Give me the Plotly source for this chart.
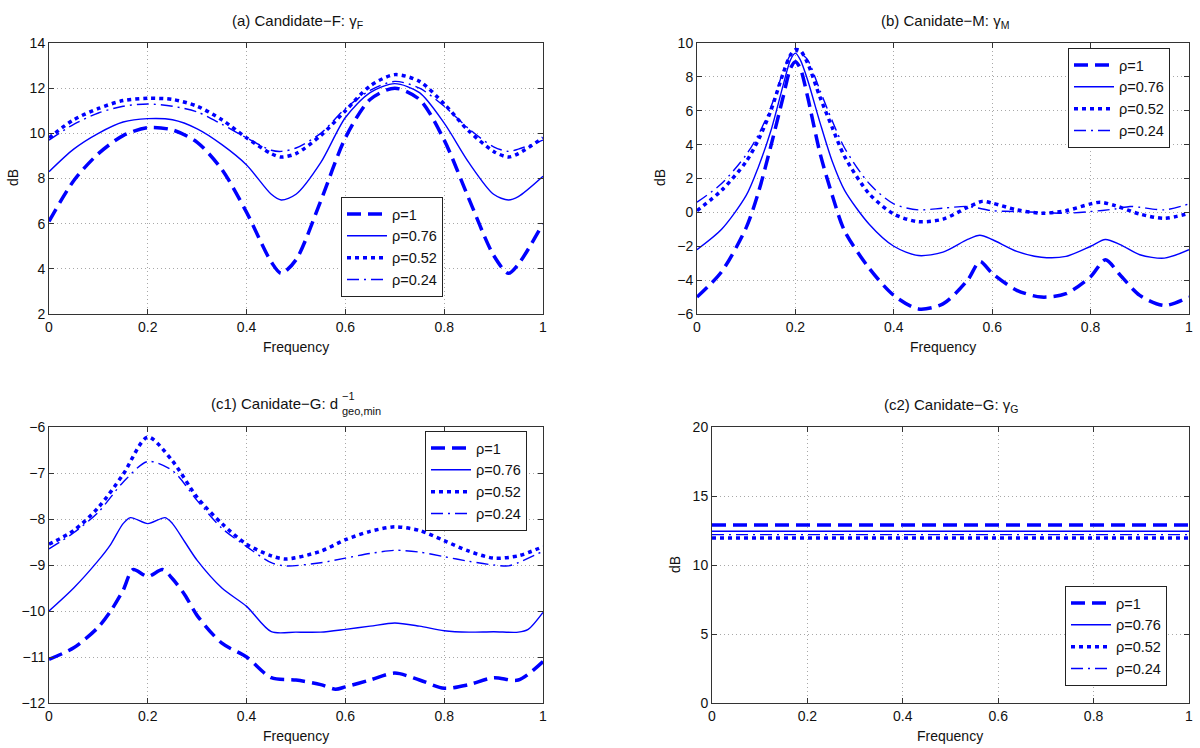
import plotly.graph_objects as go

# ---------------- data ----------------
rho_labels = ["ρ=1", "ρ=0.76", "ρ=0.52", "ρ=0.24"]

# (a) Candidate-F
fa = [0, 0.05, 0.1, 0.15, 0.2, 0.25, 0.3, 0.35, 0.4, 0.45, 0.47, 0.5, 0.55, 0.6, 0.65, 0.7, 0.75, 0.8, 0.85, 0.9, 0.93, 0.95, 1.0]
a_r100 = [6.1, 7.9, 9.1, 9.9, 10.25, 10.15, 9.6, 8.4, 6.5, 4.3, 3.8, 4.4, 7.0, 9.8, 11.5, 12.0, 11.5, 9.7, 7.1, 4.6, 3.8, 4.2, 6.0]
a_r076 = [8.3, 9.3, 10.0, 10.5, 10.65, 10.6, 10.2, 9.5, 8.6, 7.3, 7.05, 7.3, 8.7, 10.7, 11.8, 12.2, 11.8, 10.45, 8.7, 7.3, 7.05, 7.2, 8.1]
a_r052 = [9.8, 10.6, 11.1, 11.45, 11.55, 11.5, 11.2, 10.6, 9.8, 9.1, 8.95, 9.1, 9.9, 11.0, 12.1, 12.6, 12.3, 11.3, 10.1, 9.2, 8.95, 9.1, 9.8]
a_r024 = [9.7, 10.4, 10.9, 11.2, 11.3, 11.2, 10.95, 10.4, 9.8, 9.25, 9.2, 9.35, 10.0, 11.1, 11.9, 12.3, 12.0, 11.2, 10.2, 9.4, 9.2, 9.3, 9.7]

# (b) Candidate-M
fb1 = [0, 0.05, 0.1, 0.125, 0.15, 0.175, 0.19, 0.2, 0.21, 0.225, 0.25, 0.275, 0.3, 0.35, 0.4, 0.45, 0.5, 0.55, 0.575, 0.6, 0.65, 0.7, 0.75, 0.8, 0.83, 0.86, 0.9, 0.95, 1.0]
b_r100 = [-5.0, -3.5, -0.9, 1.2, 3.9, 6.8, 8.5, 8.9, 8.5, 6.8, 3.5, 1.0, -1.1, -3.3, -4.9, -5.7, -5.4, -4.0, -2.9, -3.6, -4.6, -5.0, -4.8, -3.8, -2.8, -3.7, -4.9, -5.5, -5.0]
b_r076 = [-2.2, -1.0, 1.0, 2.7, 4.8, 7.5, 9.0, 9.4, 9.0, 7.8, 5.3, 3.0, 1.3, -0.7, -2.0, -2.55, -2.35, -1.6, -1.35, -1.6, -2.3, -2.65, -2.6, -2.0, -1.6, -1.9, -2.5, -2.7, -2.2]
fb2 = [0, 0.05, 0.1, 0.125, 0.15, 0.175, 0.19, 0.2, 0.21, 0.225, 0.25, 0.275, 0.3, 0.35, 0.4, 0.45, 0.5, 0.55, 0.58, 0.6, 0.65, 0.7, 0.75, 0.8, 0.82, 0.85, 0.9, 0.95, 1.0]
b_r052 = [0.1, 1.3, 3.0, 4.3, 6.0, 8.2, 9.3, 9.6, 9.55, 8.8, 6.8, 5.0, 3.3, 1.1, -0.1, -0.55, -0.4, 0.3, 0.65, 0.55, 0.15, -0.05, 0.1, 0.5, 0.6, 0.4, -0.1, -0.35, -0.05]
fb3 = [0, 0.05, 0.1, 0.125, 0.15, 0.175, 0.19, 0.2, 0.21, 0.225, 0.25, 0.275, 0.3, 0.35, 0.4, 0.45, 0.5, 0.55, 0.6, 0.65, 0.7, 0.75, 0.8, 0.85, 0.88, 0.9, 0.95, 1.0]
b_r024 = [0.6, 1.7, 3.4, 4.6, 6.2, 8.3, 9.3, 9.5, 9.4, 9.0, 7.2, 5.4, 3.8, 1.7, 0.5, 0.15, 0.25, 0.35, 0.1, 0.05, 0.0, -0.05, 0.05, 0.2, 0.35, 0.3, 0.15, 0.5]

# (c1) Candidate-G: d_geo,min^-1
fc1 = [0, 0.05, 0.1, 0.125, 0.15, 0.17, 0.2, 0.23, 0.25, 0.275, 0.3, 0.35, 0.4, 0.45, 0.5, 0.55, 0.58, 0.6, 0.65, 0.7, 0.75, 0.8, 0.85, 0.9, 0.95, 1.0]
c1_r100 = [-11.05, -10.8, -10.35, -10.0, -9.55, -9.1, -9.25, -9.1, -9.3, -9.65, -10.1, -10.7, -11.0, -11.45, -11.5, -11.6, -11.7, -11.65, -11.5, -11.35, -11.5, -11.68, -11.6, -11.45, -11.5, -11.1]
fc2 = [0, 0.05, 0.1, 0.125, 0.15, 0.165, 0.2, 0.235, 0.25, 0.275, 0.3, 0.35, 0.4, 0.45, 0.5, 0.55, 0.6, 0.65, 0.7, 0.75, 0.8, 0.85, 0.9, 0.95, 0.97, 1.0]
c1_r076 = [-10.0, -9.5, -8.9, -8.55, -8.1, -7.97, -8.1, -7.97, -8.1, -8.5, -8.9, -9.5, -9.9, -10.45, -10.46, -10.46, -10.4, -10.33, -10.26, -10.33, -10.43, -10.46, -10.45, -10.46, -10.4, -10.03]
fc3 = [0, 0.05, 0.1, 0.15, 0.2, 0.25, 0.3, 0.35, 0.4, 0.45, 0.48, 0.55, 0.6, 0.65, 0.7, 0.75, 0.8, 0.85, 0.9, 0.95, 1.0]
c1_r052 = [-8.55, -8.25, -7.75, -7.03, -6.22, -6.74, -7.53, -8.1, -8.55, -8.8, -8.87, -8.7, -8.45, -8.27, -8.17, -8.25, -8.47, -8.7, -8.85, -8.8, -8.6]
fc4 = [0, 0.05, 0.1, 0.15, 0.2, 0.25, 0.3, 0.35, 0.4, 0.45, 0.48, 0.55, 0.6, 0.65, 0.7, 0.75, 0.8, 0.85, 0.9, 0.93, 0.95, 1.0]
c1_r024 = [-8.65, -8.3, -7.85, -7.2, -6.75, -6.95, -7.6, -8.2, -8.6, -8.95, -9.02, -8.95, -8.85, -8.75, -8.68, -8.72, -8.82, -8.92, -9.0, -9.02, -8.95, -8.7]

# (c2) Candidate-G: gamma_G (constant)
fd = [0, 1]
c2_levels = [12.9, 12.45, 11.95, 12.2]

x_ticks = [0, 0.2, 0.4, 0.6, 0.8, 1]
x_ticktext = ["0", "0.2", "0.4", "0.6", "0.8", "1"]

# ---------------- styles ----------------
BLUE = "#0000ff"
styles = [
    dict(color=BLUE, width=3.5, dash="14px,7px"),
    dict(color=BLUE, width=1.4, dash="solid"),
    dict(color=BLUE, width=3.5, dash="4px,4px"),
    dict(color=BLUE, width=1.4, dash="12px,5px,2px,5px"),
]
FONT = "Liberation Sans, Arial, Helvetica, sans-serif"
TXT = "#111111"

fig = go.Figure()

def add(xs, ys, i, xa, ya, leg):
    fig.add_trace(go.Scatter(
        x=xs, y=ys, mode="lines", name=rho_labels[i],
        line=dict(shape="spline", smoothing=0.8, **styles[i]),
        xaxis=xa, yaxis=ya, legend=leg, showlegend=True, hoverinfo="x+y+name"))

for i, (xs, ys) in enumerate([(fa, a_r100), (fa, a_r076), (fa, a_r052), (fa, a_r024)]):
    add(xs, ys, i, "x", "y", "legend")
for i, (xs, ys) in enumerate([(fb1, b_r100), (fb1, b_r076), (fb2, b_r052), (fb3, b_r024)]):
    add(xs, ys, i, "x2", "y2", "legend2")
for i, (xs, ys) in enumerate([(fc1, c1_r100), (fc2, c1_r076), (fc3, c1_r052), (fc4, c1_r024)]):
    add(xs, ys, i, "x3", "y3", "legend3")
for i, lev in enumerate(c2_levels):
    add(fd, [lev, lev], i, "x4", "y4", "legend4")

W, H = 1200, 748
def px(xp):
    return xp / W
def py(yp):
    return 1 - yp / H

axis_common = dict(
    automargin=False,
    showline=True, linecolor="#333333", linewidth=1, mirror="allticks",
    ticks="inside", ticklen=5, tickcolor="#333333",
    showgrid=True, gridcolor="#a8a8a8", griddash="1px,3px", gridwidth=1,
    zeroline=False, tickfont=dict(family=FONT, size=14, color=TXT),
)
xt = dict(tickvals=x_ticks, ticktext=x_ticktext, range=[0, 1])

top = [py(314), py(43)]
bot = [py(703), py(427)]

layout = dict(
    width=W, height=H, margin=dict(l=0, r=0, t=0, b=0, autoexpand=False),
    paper_bgcolor="white", plot_bgcolor="white",
    font=dict(family=FONT, size=14, color=TXT),
    xaxis=dict(domain=[px(49), px(543)], anchor="y", **xt, **axis_common),
    yaxis=dict(domain=top, anchor="x", range=[2, 14], dtick=2, **axis_common),
    xaxis2=dict(domain=[px(697), px(1189)], anchor="y2", **xt, **axis_common),
    yaxis2=dict(domain=top, anchor="x2", range=[-6, 10], dtick=2, **axis_common),
    xaxis3=dict(domain=[px(49), px(543)], anchor="y3", **xt, **axis_common),
    yaxis3=dict(domain=bot, anchor="x3", range=[-12, -6], dtick=1, **axis_common),
    xaxis4=dict(domain=[px(712), px(1189)], anchor="y4", **xt, **axis_common),
    yaxis4=dict(domain=bot, anchor="x4", range=[0, 20], dtick=5, **axis_common),
)

def legend(xp, yp):
    return dict(x=px(xp), y=py(yp), xanchor="left", yanchor="top",
                bgcolor="white", bordercolor="#222222", borderwidth=1,
                font=dict(family=FONT, size=14.5, color=TXT),
                tracegroupgap=0, itemwidth=40)

layout["legend"] = legend(341, 197)
layout["legend2"] = legend(1068, 48)
layout["legend3"] = legend(425, 431)
layout["legend4"] = legend(1065, 586)

def ann(text, xc, yc, size=14, xanchor="center", angle=0):
    return dict(text=text, x=px(xc), y=py(yc), xref="paper", yref="paper", showarrow=False,
                xanchor=xanchor, yanchor="middle", textangle=angle,
                font=dict(family=FONT, size=size, color=TXT))

annotations = [
    ann("(a) Candidate−F: γ<sub>F</sub>", 297, 21, 15),
    ann("(b) Canidate−M: γ<sub>M</sub>", 945, 21, 15),
    ann("(c1) Canidate−G: d", 340, 403, 15, xanchor="right"),
    ann("−1", 340, 396, 11, xanchor="left"),
    ann("geo,min", 340, 411, 11, xanchor="left"),
    ann("(c2) Canidate−G: γ<sub>G</sub>", 951, 406, 15),
    ann("Frequency", 296, 347), ann("Frequency", 943, 347),
    ann("Frequency", 296, 736), ann("Frequency", 950, 736),
    ann("dB", 13, 178, angle=-90), ann("dB", 660, 178, angle=-90),
    ann("dB", 675, 565, angle=-90),
]
layout["annotations"] = annotations

fig.update_layout(**layout)
fig.write_html("out.html", config={"displayModeBar": False},
               post_script="document.body.style.margin='0px';document.body.style.overflow='hidden';")
